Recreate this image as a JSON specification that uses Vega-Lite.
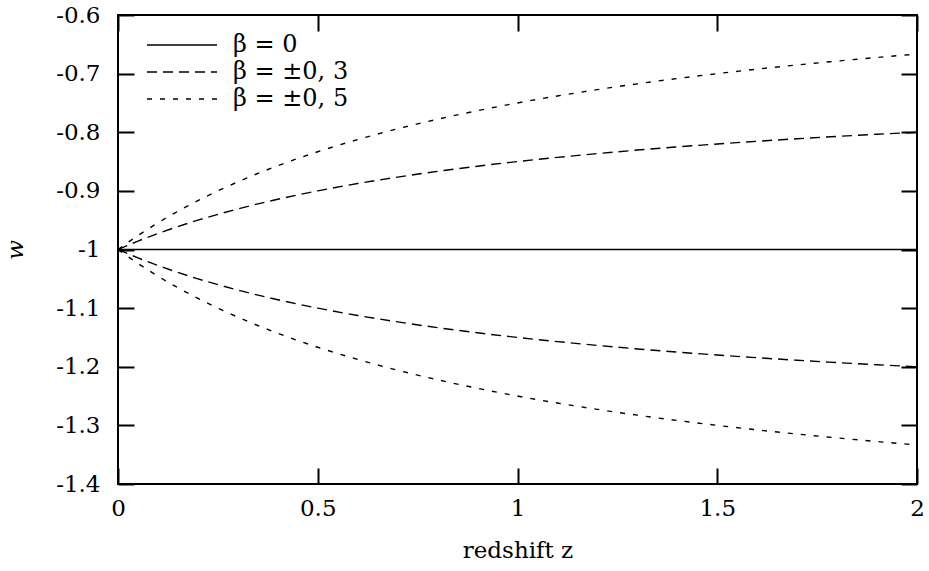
{
  "$schema": "https://vega.github.io/schema/vega-lite/v6.json",
  "width": 799,
  "height": 469,
  "autosize": "none",
  "padding": {"left": 118, "top": 15, "right": 12, "bottom": 87},
  "background": "white",
  "config": {
    "view": {"stroke": "black", "strokeWidth": 2},
    "font": "DejaVu Serif",
    "axis": {
      "domain": false,
      "grid": false,
      "tickColor": "black",
      "tickWidth": 2,
      "tickSize": 16,
      "offset": -16,
      "labelFont": "DejaVu Serif",
      "labelFontSize": 23,
      "labelColor": "black",
      "titleFont": "DejaVu Serif",
      "titleFontSize": 23,
      "titleFontWeight": "normal",
      "titleColor": "black"
    },
    "legend": {
      "labelFont": "DejaVu Serif",
      "labelFontSize": 24,
      "labelColor": "black"
    }
  },
  "datasets": {
    "pos": [
      {"z": 0, "b0": -1, "b3": -1, "b5": -1},
      {"z": 0.05, "b0": -1, "b3": -0.9857, "b5": -0.9762},
      {"z": 0.1, "b0": -1, "b3": -0.9727, "b5": -0.9545},
      {"z": 0.2, "b0": -1, "b3": -0.95, "b5": -0.9167},
      {"z": 0.3, "b0": -1, "b3": -0.9308, "b5": -0.8846},
      {"z": 0.4, "b0": -1, "b3": -0.9143, "b5": -0.8571},
      {"z": 0.5, "b0": -1, "b3": -0.9, "b5": -0.8333},
      {"z": 0.6, "b0": -1, "b3": -0.8875, "b5": -0.8125},
      {"z": 0.7, "b0": -1, "b3": -0.8765, "b5": -0.7941},
      {"z": 0.8, "b0": -1, "b3": -0.8667, "b5": -0.7778},
      {"z": 0.9, "b0": -1, "b3": -0.8579, "b5": -0.7632},
      {"z": 1.0, "b0": -1, "b3": -0.85, "b5": -0.75},
      {"z": 1.1, "b0": -1, "b3": -0.8429, "b5": -0.7381},
      {"z": 1.2, "b0": -1, "b3": -0.8364, "b5": -0.7273},
      {"z": 1.3, "b0": -1, "b3": -0.8304, "b5": -0.7174},
      {"z": 1.4, "b0": -1, "b3": -0.825, "b5": -0.7083},
      {"z": 1.5, "b0": -1, "b3": -0.82, "b5": -0.7},
      {"z": 1.6, "b0": -1, "b3": -0.8154, "b5": -0.6923},
      {"z": 1.7, "b0": -1, "b3": -0.8111, "b5": -0.6852},
      {"z": 1.8, "b0": -1, "b3": -0.8071, "b5": -0.6786},
      {"z": 1.9, "b0": -1, "b3": -0.8034, "b5": -0.6724},
      {"z": 2.0, "b0": -1, "b3": -0.8, "b5": -0.6667}
    ],
    "neg": [
      {"z": 0, "b3": -1, "b5": -1},
      {"z": 0.05, "b3": -1.0143, "b5": -1.0238},
      {"z": 0.1, "b3": -1.0273, "b5": -1.0455},
      {"z": 0.2, "b3": -1.05, "b5": -1.0833},
      {"z": 0.3, "b3": -1.0692, "b5": -1.1154},
      {"z": 0.4, "b3": -1.0857, "b5": -1.1429},
      {"z": 0.5, "b3": -1.1, "b5": -1.1667},
      {"z": 0.6, "b3": -1.1125, "b5": -1.1875},
      {"z": 0.7, "b3": -1.1235, "b5": -1.2059},
      {"z": 0.8, "b3": -1.1333, "b5": -1.2222},
      {"z": 0.9, "b3": -1.1421, "b5": -1.2368},
      {"z": 1.0, "b3": -1.15, "b5": -1.25},
      {"z": 1.1, "b3": -1.1571, "b5": -1.2619},
      {"z": 1.2, "b3": -1.1636, "b5": -1.2727},
      {"z": 1.3, "b3": -1.1696, "b5": -1.2826},
      {"z": 1.4, "b3": -1.175, "b5": -1.2917},
      {"z": 1.5, "b3": -1.18, "b5": -1.3},
      {"z": 1.6, "b3": -1.1846, "b5": -1.3077},
      {"z": 1.7, "b3": -1.1889, "b5": -1.3148},
      {"z": 1.8, "b3": -1.1929, "b5": -1.3214},
      {"z": 1.9, "b3": -1.1966, "b5": -1.3276},
      {"z": 2.0, "b3": -1.2, "b5": -1.3333}
    ]
  },
  "layer": [
    {
      "data": {"name": "pos"},
      "transform": [{"fold": ["b0", "b3", "b5"], "as": ["beta", "w"]}],
      "mark": {"type": "line", "color": "black", "strokeWidth": 1.4, "interpolate": "monotone"},
      "encoding": {
        "x": {
          "field": "z", "type": "quantitative",
          "scale": {"domain": [0, 2], "nice": false, "zero": false},
          "axis": {"values": [0, 0.5, 1, 1.5, 2], "title": "redshift z", "labelPadding": 13, "titlePadding": 19, "labelFlush": false, "labelExpr": "replace(format(datum.value, '~g'), '−', '-')"}
        },
        "y": {
          "field": "w", "type": "quantitative",
          "scale": {"domain": [-1.4, -0.6], "nice": false, "zero": false},
          "axis": {"values": [-1.4, -1.3, -1.2, -1.1, -1, -0.9, -0.8, -0.7, -0.6], "title": "w", "titleFontStyle": "italic", "labelPadding": 18, "titlePadding": 28, "labelFlush": false, "labelExpr": "replace(format(datum.value, '~g'), '−', '-')"}
        },
        "strokeDash": {
          "field": "beta", "type": "nominal",
          "scale": {"domain": ["b0", "b3", "b5"], "range": [[1, 0], [10, 6], [5, 8]]},
          "legend": {
            "title": null,
            "orient": "none",
            "legendX": 27,
            "legendY": 18,
            "symbolType": "M-2,0H12",
            "symbolSize": 100,
            "symbolStrokeWidth": 1.4,
            "symbolStrokeColor": "black",
            "labelOffset": 64,
            "rowPadding": 3,
            "labelExpr": "datum.label == 'b0' ? 'β = 0' : datum.label == 'b3' ? 'β = ±0, 3' : 'β = ±0, 5'"
          }
        }
      }
    },
    {
      "data": {"name": "neg"},
      "transform": [{"fold": ["b3", "b5"], "as": ["beta", "w"]}],
      "mark": {"type": "line", "color": "black", "strokeWidth": 1.4, "interpolate": "monotone"},
      "encoding": {
        "x": {"field": "z", "type": "quantitative", "axis": {"orient": "top", "values": [0, 0.5, 1, 1.5, 2], "labels": false, "title": null}},
        "y": {"field": "w", "type": "quantitative", "axis": {"orient": "right", "values": [-1.4, -1.3, -1.2, -1.1, -1, -0.9, -0.8, -0.7, -0.6], "labels": false, "title": null}},
        "strokeDash": {"field": "beta", "type": "nominal"}
      }
    }
  ],
  "resolve": {"axis": {"x": "independent", "y": "independent"}}
}
